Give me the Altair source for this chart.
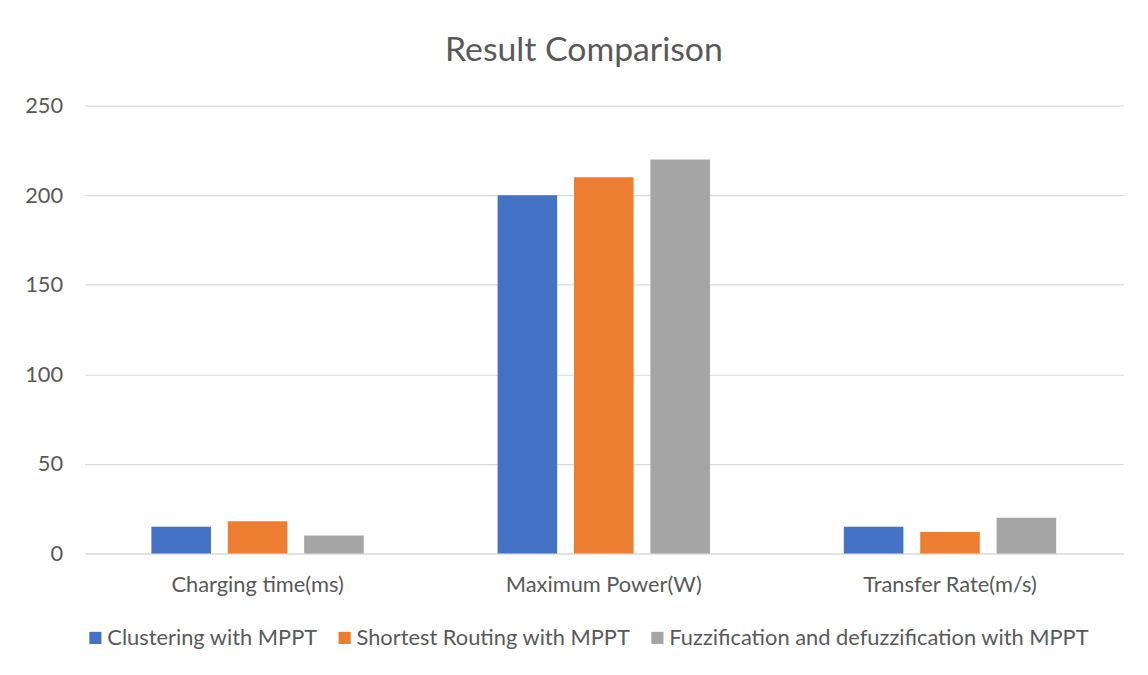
import altair as alt
import pandas as pd

categories = ["Charging time(ms)", "Maximum Power(W)", "Transfer Rate(m/s)"]
series = ["Clustering with MPPT", "Shortest Routing with MPPT",
          "Fuzzification and defuzzification with MPPT"]
clustering = [15, 200, 15]
shortest = [18, 210, 12]
fuzzy = [10, 220, 20]
colors = ["#4472C4", "#ED7D31", "#A5A5A5"]
y_ticks = [0, 50, 100, 150, 200, 250]

rows = []
for s, vals in zip(series, [clustering, shortest, fuzzy]):
    for c, v in zip(categories, vals):
        rows.append({"category": c, "series": s, "value": v})
df = pd.DataFrame(rows)

FONT = "Lato"
TXT = "#595959"
GRID = "#D9D9D9"

chart = alt.Chart(df).mark_bar().encode(
    x=alt.X("category:N", sort=categories,
            scale=alt.Scale(paddingInner=0, paddingOuter=0),
            axis=alt.Axis(title=None, labelAngle=0, ticks=False, grid=False,
                          domainColor=GRID, domainWidth=1.2, labelLimit=0,
                          labelPadding=21, labelFontSize=22, labelColor=TXT,
                          labelFont=FONT)),
    xOffset=alt.XOffset("series:N", sort=series,
                        scale=alt.Scale(paddingInner=0.22, paddingOuter=0.876)),
    y=alt.Y("value:Q", scale=alt.Scale(domain=[0, 250], nice=False),
            axis=alt.Axis(title=None, values=y_ticks, domain=False, ticks=False,
                          grid=True, gridColor=GRID, gridWidth=1.2,
                          labelPadding=22, labelFontSize=22, labelColor=TXT,
                          labelFont=FONT)),
    color=alt.Color("series:N", sort=series,
                    scale=alt.Scale(domain=series, range=colors),
                    legend=alt.Legend(title=None, orient="none", legendX=0, legendY=525,
                                      direction="horizontal", symbolType="square",
                                      symbolSize=150, symbolStrokeWidth=0,
                                      labelFontSize=22, labelColor=TXT, labelFont=FONT,
                                      labelLimit=0, labelOffset=1, columnPadding=16)),
).properties(
    width=1046, height=451,
    title=alt.TitleParams("Result Comparison", anchor="middle", frame="group",
                          fontSize=34, font=FONT, fontWeight="normal", color=TXT,
                          offset=27, dx=-20),
    autosize=alt.AutoSizeParams(type="none"),
    padding={"left": 77, "top": 96, "right": 17, "bottom": 120},
).configure_view(stroke=None)

chart.save("out.html", embed_options={"renderer": "svg", "actions": False})
